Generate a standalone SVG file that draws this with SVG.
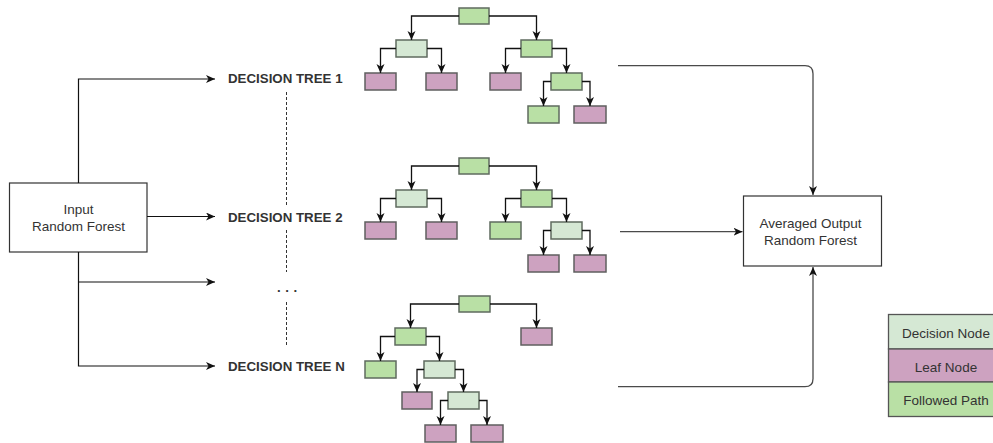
<svg xmlns="http://www.w3.org/2000/svg" width="993" height="443" viewBox="0 0 993 443">
<defs>
<style>
.dec{fill:#d5e8d4;stroke:#5f6b5f;stroke-width:1.5}
.fol{fill:#b9e0a5;stroke:#5f6b5f;stroke-width:1.5}
.leaf{fill:#cda2c0;stroke:#5f5f5f;stroke-width:1.5}
.tc{fill:none;stroke:#111;stroke-width:1.3}
.mc{fill:none;stroke:#111;stroke-width:1.2}
.oc{fill:none;stroke:#4a4a4a;stroke-width:1.3}
.box{fill:#fff;stroke:#333;stroke-width:1.2}
.lbl{font-family:"Liberation Sans",Arial,sans-serif;font-size:13.5px;fill:#333;text-anchor:middle}
.dt{font-family:"Liberation Sans",Arial,sans-serif;font-size:13.3px;font-weight:bold;fill:#333}
</style>
<marker id="ah" markerUnits="userSpaceOnUse" markerWidth="10" markerHeight="9" refX="9" refY="4" orient="auto">
<path d="M0,0 L9,4 L0,8 L2.5,4 z" fill="#111"/>
</marker>
</defs>

<!-- Input node -->
<g id="input">
<rect class="box" x="9.5" y="183" width="137.5" height="69"/>
<text class="lbl" x="78.5" y="214">Input</text>
<text class="lbl" x="78.5" y="231">Random Forest</text>
</g>

<!-- Output node -->
<g id="output">
<rect class="box" x="743.5" y="196" width="138" height="70"/>
<text class="lbl" x="810.5" y="228">Averaged Output</text>
<text class="lbl" x="810.5" y="245">Random Forest</text>
</g>

<!-- Decision tree labels -->
<g id="label-tree1"><text class="dt" x="228" y="83">DECISION TREE 1</text></g>
<g id="label-tree2"><text class="dt" x="228" y="222">DECISION TREE 2</text></g>
<g id="label-dots"><text class="dt" x="277" y="292" letter-spacing="4.5">...</text></g>
<g id="label-treeN"><text class="dt" x="228" y="371">DECISION TREE N</text></g>

<!-- Tree 1 -->
<g id="tree1">
<rect class="fol" x="459" y="8" width="30" height="16"/>
<rect class="dec" x="396" y="40" width="31" height="17"/>
<rect class="fol" x="521" y="40" width="31" height="17"/>
<rect class="leaf" x="365" y="73" width="31" height="17"/>
<rect class="leaf" x="426" y="73" width="31" height="17"/>
<rect class="leaf" x="490" y="73" width="31" height="17"/>
<rect class="fol" x="551" y="73" width="31" height="17"/>
<rect class="fol" x="528" y="106" width="31" height="17"/>
<rect class="leaf" x="574" y="106" width="32" height="17"/>
</g>

<!-- Tree 2 -->
<g id="tree2">
<rect class="fol" x="459" y="158" width="30" height="16"/>
<rect class="dec" x="396" y="190" width="31" height="17"/>
<rect class="fol" x="521" y="190" width="31" height="17"/>
<rect class="leaf" x="365" y="222" width="31" height="17"/>
<rect class="leaf" x="426" y="222" width="31" height="17"/>
<rect class="fol" x="490" y="222" width="31" height="17"/>
<rect class="dec" x="551" y="222" width="31" height="17"/>
<rect class="leaf" x="528" y="255" width="31" height="17"/>
<rect class="leaf" x="574" y="255" width="32" height="17"/>
</g>

<!-- Tree N -->
<g id="treeN">
<rect class="fol" x="459" y="296" width="31" height="16"/>
<rect class="fol" x="395" y="328" width="31" height="17"/>
<rect class="leaf" x="521" y="328" width="31" height="17"/>
<rect class="fol" x="365" y="361" width="31" height="17"/>
<rect class="dec" x="424" y="361" width="31" height="17"/>
<rect class="leaf" x="402" y="392" width="30" height="17"/>
<rect class="dec" x="448" y="392" width="31" height="17"/>
<rect class="leaf" x="425" y="425" width="31" height="17"/>
<rect class="leaf" x="471" y="425" width="32" height="17"/>
</g>

<!-- Legend -->
<g id="legend">
<rect x="888.5" y="314.5" width="116" height="34.5" fill="#d5e8d4" stroke="#555" stroke-width="1.3"/>
<rect x="888.5" y="349" width="116" height="33" fill="#cda2c0" stroke="#555" stroke-width="1.3"/>
<rect x="888.5" y="382" width="116" height="34.5" fill="#b9e0a5" stroke="#555" stroke-width="1.3"/>
<text class="lbl" x="946" y="338">Decision Node</text>
<text class="lbl" x="946" y="372">Leaf Node</text>
<text class="lbl" x="946" y="405">Followed Path</text>
</g>

<!-- Connectors -->
<g id="connectors">
<!-- input to trees -->
<path class="mc" d="M78.5,183 V79 H215" marker-end="url(#ah)"/>
<path class="mc" d="M147,216.5 H215" marker-end="url(#ah)"/>
<path class="mc" d="M78.5,252 V366 H215" marker-end="url(#ah)"/>
<path class="mc" d="M78.5,282 H215" marker-end="url(#ah)"/>
<!-- dashed vertical -->
<path d="M286.5,92 V207 M286.5,230 V272 M286.5,302 V346" fill="none" stroke="#333" stroke-width="1" stroke-dasharray="3,2"/>
<!-- trees to output -->
<path class="oc" d="M618,65.7 H805 Q813,65.7 813,73.7 V195" marker-end="url(#ah)"/>
<path class="oc" d="M620,231.7 H742.5" marker-end="url(#ah)"/>
<path class="oc" d="M618,386.7 H805 Q813,386.7 813,378.7 V267" marker-end="url(#ah)"/>

<!-- tree 1 edges -->
<path class="tc" d="M459,16 H411.5 V40" marker-end="url(#ah)"/>
<path class="tc" d="M489,16 H536.5 V40" marker-end="url(#ah)"/>
<path class="tc" d="M396,48.5 H380.5 V73" marker-end="url(#ah)"/>
<path class="tc" d="M427,48.5 H441.5 V73" marker-end="url(#ah)"/>
<path class="tc" d="M521,48.5 H505.5 V73" marker-end="url(#ah)"/>
<path class="tc" d="M552,48.5 H566.5 V73" marker-end="url(#ah)"/>
<path class="tc" d="M551,81.5 H543.5 V106" marker-end="url(#ah)"/>
<path class="tc" d="M582,81.5 H590 V106" marker-end="url(#ah)"/>

<!-- tree 2 edges -->
<path class="tc" d="M459,166 H411.5 V190" marker-end="url(#ah)"/>
<path class="tc" d="M489,166 H536.5 V190" marker-end="url(#ah)"/>
<path class="tc" d="M396,198.5 H380.5 V222" marker-end="url(#ah)"/>
<path class="tc" d="M427,198.5 H441.5 V222" marker-end="url(#ah)"/>
<path class="tc" d="M521,198.5 H505.5 V222" marker-end="url(#ah)"/>
<path class="tc" d="M552,198.5 H566.5 V222" marker-end="url(#ah)"/>
<path class="tc" d="M551,230.5 H543.5 V255" marker-end="url(#ah)"/>
<path class="tc" d="M582,230.5 H590 V255" marker-end="url(#ah)"/>

<!-- tree N edges -->
<path class="tc" d="M459,304 H410.5 V328" marker-end="url(#ah)"/>
<path class="tc" d="M490,304 H536.5 V328" marker-end="url(#ah)"/>
<path class="tc" d="M395,336.5 H380.5 V361" marker-end="url(#ah)"/>
<path class="tc" d="M426,336.5 H439.5 V361" marker-end="url(#ah)"/>
<path class="tc" d="M424,369.5 H417 V392" marker-end="url(#ah)"/>
<path class="tc" d="M455,369.5 H463.5 V392" marker-end="url(#ah)"/>
<path class="tc" d="M448,400.5 H440.5 V425" marker-end="url(#ah)"/>
<path class="tc" d="M479,400.5 H487 V425" marker-end="url(#ah)"/>
</g>
</svg>
